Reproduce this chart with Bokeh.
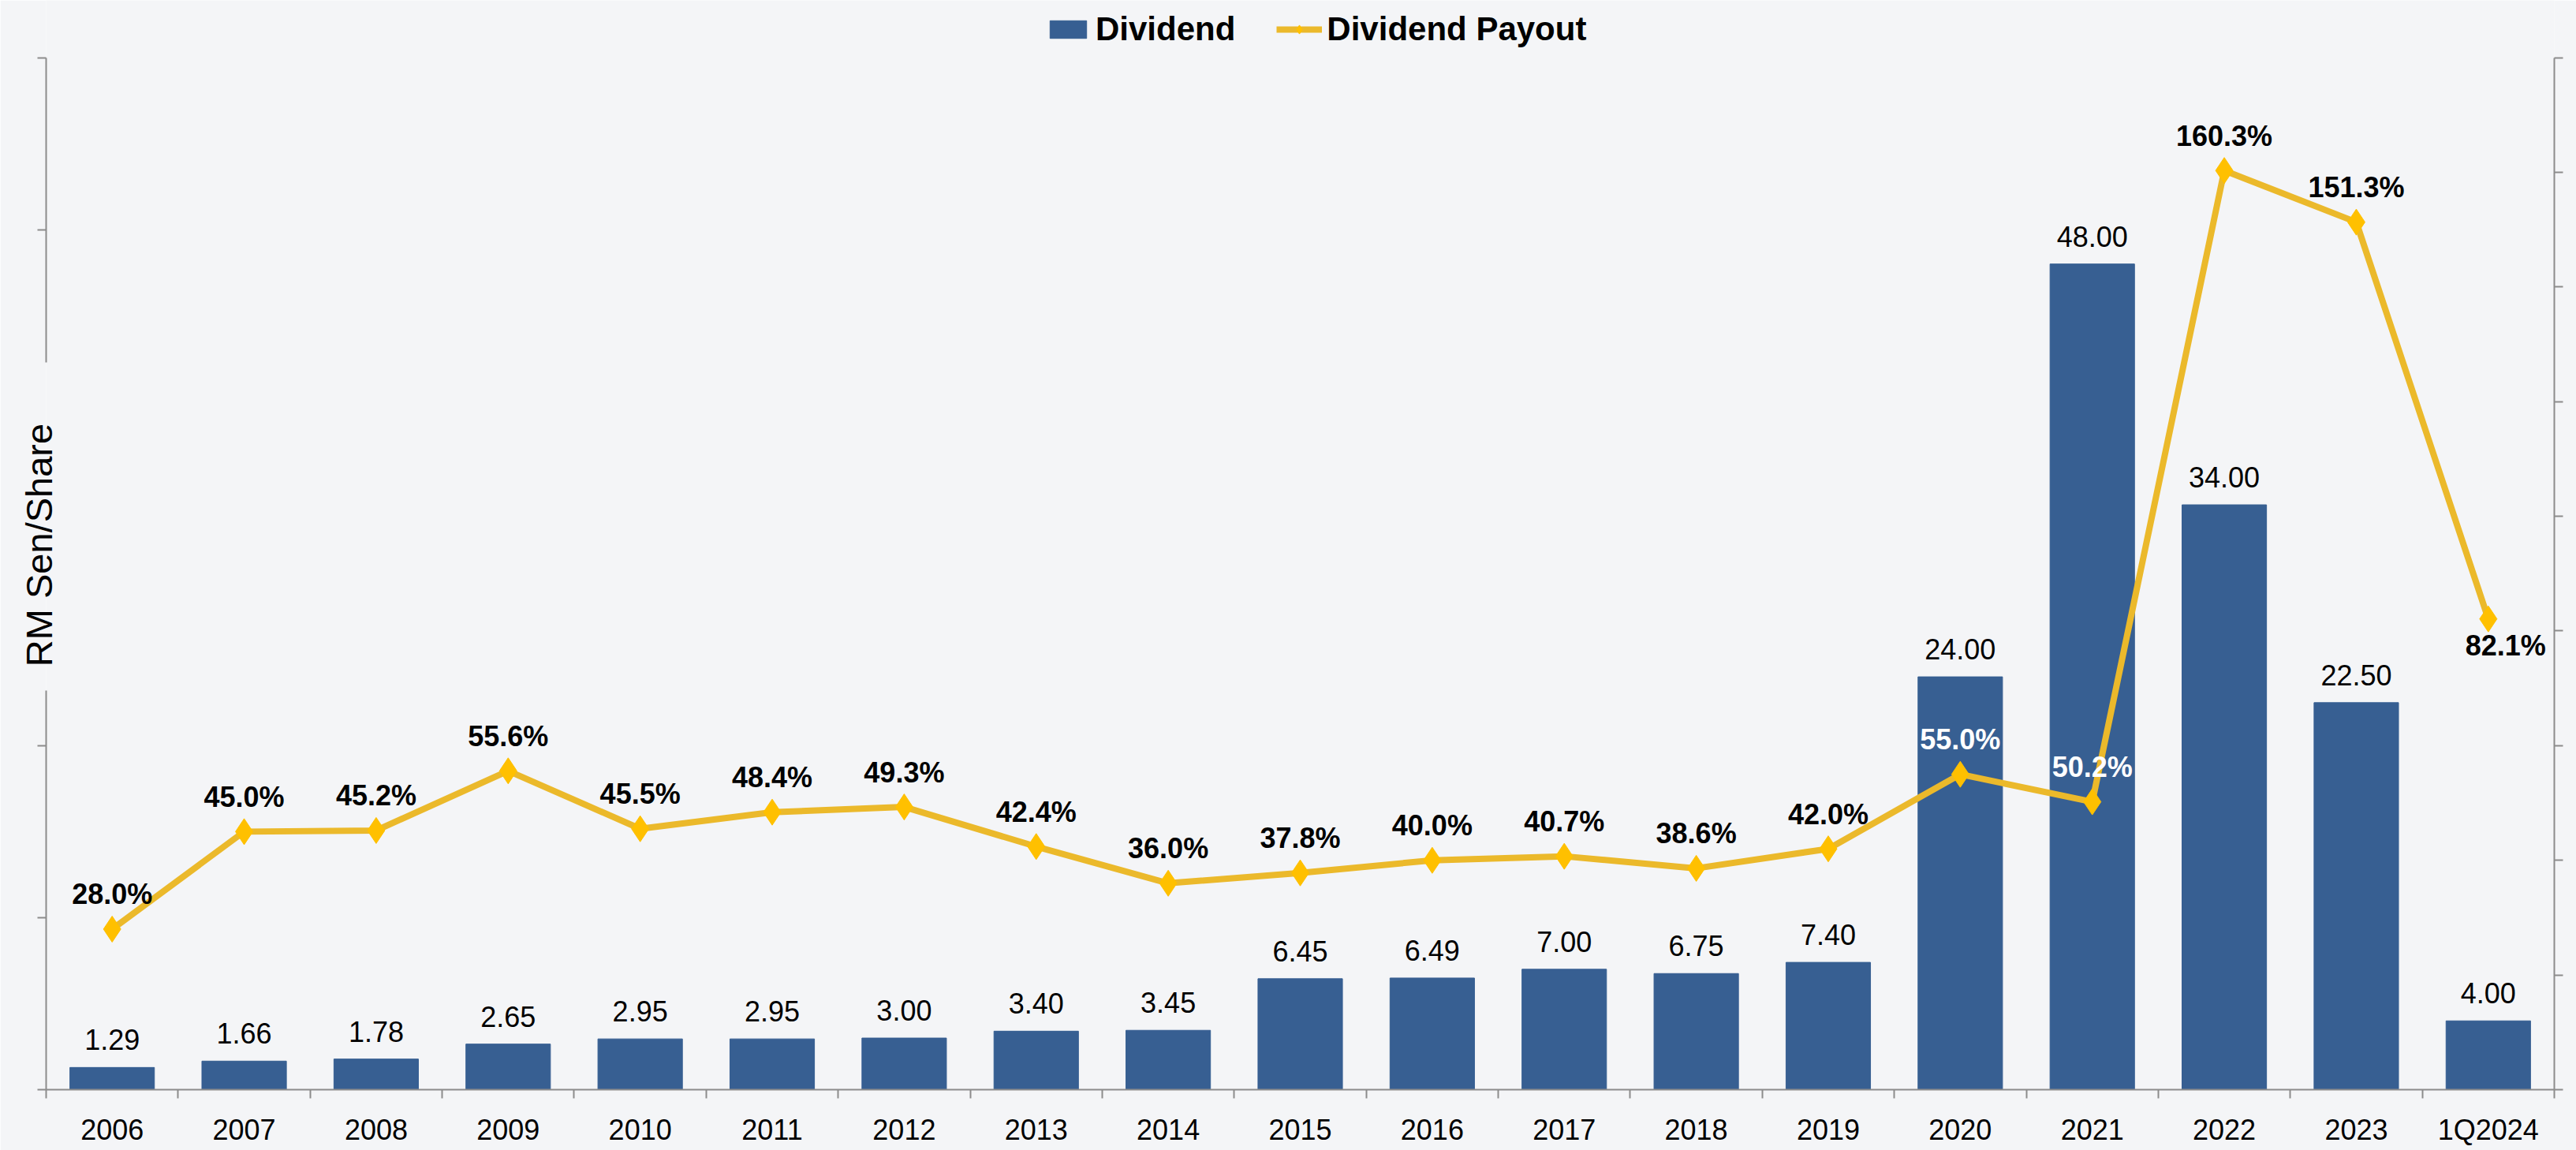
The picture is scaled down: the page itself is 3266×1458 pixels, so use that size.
import math
from bokeh.plotting import figure
from bokeh.core.properties import value
from bokeh.models import (ColumnDataSource, FactorRange, Range1d, LinearAxis, CategoricalAxis,
                          SingleIntervalTicker, FixedTicker, CustomJSTickFormatter, LabelSet,
                          Legend, LegendItem)
from bokeh.embed import file_html
from bokeh.resources import INLINE

categories = ["2006", "2007", "2008", "2009", "2010", "2011", "2012", "2013", "2014", "2015",
              "2016", "2017", "2018", "2019", "2020", "2021", "2022", "2023", "1Q2024"]
dividend = [1.29, 1.66, 1.78, 2.65, 2.95, 2.95, 3.00, 3.40, 3.45, 6.45,
            6.49, 7.00, 6.75, 7.40, 24.00, 48.00, 34.00, 22.50, 4.00]
payout = [28.0, 45.0, 45.2, 55.6, 45.5, 48.4, 49.3, 42.4, 36.0, 37.8,
          40.0, 40.7, 38.6, 42.0, 55.0, 50.2, 160.3, 151.3, 82.1]
dividend_labels = [f"{v:.2f}" for v in dividend]
payout_labels = [f"{v:.1f}%" for v in payout]

BG = "#F4F5F7"
BAR = "#375F92"
LINE = "#EBB92B"
MARK = "#FFC000"
AXIS = "#8C8C8C"
FONT = "Liberation Sans"

# label styling per point (inside bars -> white, last one below the point)
pay_colors = ["white" if c in ("2020", "2021") else "black" for c in categories]
pay_yoff = [-34 if c == "1Q2024" else 44 for c in categories]
pay_xoff = [22 if c == "1Q2024" else 0 for c in categories]

src = ColumnDataSource(dict(cat=categories, div=dividend, pay=payout,
                            div_label=dividend_labels, pay_label=payout_labels,
                            pay_color=pay_colors, pay_yoff=pay_yoff, pay_xoff=pay_xoff))

W, H = 3266, 1458
BOTTOM, LEFT, RIGHT = 77, 58, 28
AXIS_TOP_PX = 72.5            # where the axes end, measured from the top of the canvas
frame_h = H - BOTTOM
DIV_MAX, PAY_MAX = 60, 180    # axis extents
stretch = frame_h / (frame_h - AXIS_TOP_PX)   # frame reaches the top so the legend is not clipped

p = figure(width=W, height=H, x_range=FactorRange(*categories),
           y_range=Range1d(0, DIV_MAX * stretch),
           output_backend="svg", toolbar_location=None,
           x_axis_location=None, y_axis_location=None,
           min_border_left=LEFT, min_border_right=RIGHT, min_border_top=0, min_border_bottom=BOTTOM,
           background_fill_color=BG, border_fill_color=BG, outline_line_color=None)
p.xgrid.grid_line_color = None
p.ygrid.grid_line_color = None

p.extra_y_ranges = {"pct": Range1d(0, PAY_MAX * stretch)}
n = len(categories)


def style_axis(ax, zero_size=True):
    ax.axis_line_color = AXIS
    ax.axis_line_width = 2
    ax.major_tick_line_color = AXIS
    ax.major_tick_line_width = 2
    if zero_size:
        # ticks drawn outward through a negative inner length, so the axis takes no panel space
        ax.major_tick_in = -11
        ax.major_tick_out = 0
    else:
        ax.major_tick_in = 0
        ax.major_tick_out = 11
    ax.minor_tick_in = 0
    ax.minor_tick_out = 0
    ax.major_label_standoff = 0
    ax.major_label_text_font_size = "0px"
    ax.formatter = CustomJSTickFormatter(code="return ''")


# left axis drawn in two pieces, leaving a gap for the axis title
GAP_LO, GAP_HI = 23.2, 42.3
left_lo = LinearAxis(ticker=SingleIntervalTicker(interval=10), bounds=(0, GAP_LO))
style_axis(left_lo)
p.add_layout(left_lo, "left")
left_hi = LinearAxis(ticker=SingleIntervalTicker(interval=10), bounds=(GAP_HI, DIV_MAX))
style_axis(left_hi)
p.add_layout(left_hi, "left")

ytitle = LinearAxis(ticker=FixedTicker(ticks=[]), bounds=(GAP_LO, GAP_HI),
                    axis_label="RM Sen/Share")
style_axis(ytitle)
ytitle.axis_line_color = None
ytitle.major_tick_in = 0
ytitle.axis_label_text_font = FONT
ytitle.axis_label_text_font_size = "47px"
ytitle.axis_label_text_font_style = "normal"
ytitle.axis_label_text_color = "black"
ytitle.axis_label_standoff = -17
p.add_layout(ytitle, "left")

right_axis = LinearAxis(y_range_name="pct", ticker=SingleIntervalTicker(interval=20),
                        bounds=(0, PAY_MAX))
style_axis(right_axis, zero_size=False)
p.add_layout(right_axis, "right")

# category boundary ticks (synthetic coordinates of the factor range)
tick_axis = LinearAxis(ticker=FixedTicker(ticks=list(range(n + 1))))
style_axis(tick_axis)
p.add_layout(tick_axis, "below")

cat_axis = CategoricalAxis()
cat_axis.axis_line_color = None
cat_axis.major_tick_line_color = None
cat_axis.major_tick_in = 0
cat_axis.major_tick_out = 0
cat_axis.major_label_standoff = 30
cat_axis.major_label_text_font = FONT
cat_axis.major_label_text_font_size = "36px"
cat_axis.major_label_text_color = "black"
p.add_layout(cat_axis, "below")

bars = p.vbar(x="cat", top="div", width=0.64, source=src, fill_color=BAR, line_color=BAR)
line = p.line(x="cat", y="pay", y_range_name="pct", source=src, line_color=LINE, line_width=8)
marks = p.scatter(x="cat", y="pay", y_range_name="pct", source=src, marker="diamond",
                  size=33, fill_color=MARK, line_color=MARK)

bar_labels = LabelSet(x="cat", y="div", text="div_label", source=src, y_offset=35,
                      text_align="center", text_baseline="middle", text_font=value(FONT),
                      text_font_size=value("36px"), text_color="black")
p.add_layout(bar_labels)

pay_labels = LabelSet(x="cat", y="pay", y_range_name="pct", text="pay_label", source=src,
                      x_offset="pay_xoff", y_offset="pay_yoff",
                      text_align="center", text_baseline="middle", text_font=value(FONT),
                      text_font_size=value("36px"), text_font_style="bold", text_color="pay_color")
p.add_layout(pay_labels)

# legend: bottom-left corner given in screen px from the frame's bottom-left corner
legend = Legend(items=[LegendItem(label="Dividend", renderers=[bars]),
                       LegendItem(label="Dividend Payout", renderers=[line, marks])],
                location=(1267, frame_h - 61), orientation="horizontal",
                label_text_font=FONT, label_text_font_size="42px", label_text_font_style="bold",
                label_text_color="black", glyph_width=58, glyph_height=28,
                label_standoff=6, spacing=52, padding=0, margin=0,
                border_line_color=None, background_fill_alpha=0)
p.add_layout(legend, "center")

open("out.html", "w").write(file_html(p, INLINE))
